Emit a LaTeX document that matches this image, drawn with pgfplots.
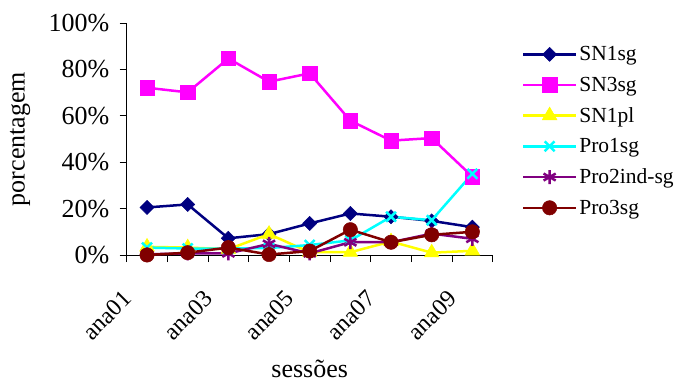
\documentclass[border=0pt]{standalone}
\usepackage{fontspec}
\setmainfont{Liberation Serif}
\usepackage{pgfplots}
\pgfplotsset{compat=1.18}
\definecolor{navyc}{RGB}{0,0,128}
\definecolor{magc}{RGB}{255,0,255}
\definecolor{yelc}{RGB}{255,255,0}
\definecolor{cyac}{RGB}{0,255,255}
\definecolor{purc}{RGB}{128,0,128}
\definecolor{drc}{RGB}{128,0,0}
\begin{document}
\begin{tikzpicture}
\path[use as bounding box] (-126.7pt,-123pt) rectangle (550.3pt,255pt);
\begin{axis}[
 at={(0pt,0pt)}, anchor=south west,
 scale only axis, width=366pt, height=232pt,
 xmin=0.5, xmax=9.5, ymin=0, ymax=100,
 axis x line*=bottom, axis y line*=left,
 axis line style={black, line width=0.8pt},
 tick align=outside,
 major tick length=7pt,
 tick style={black, line width=0.8pt},
 ytick={0,20,...,100},
 yticklabels={0\%,20\%,40\%,60\%,80\%,100\%},
 xtick={0.5,1.5,...,9.5}, xticklabels={},
 extra x ticks={1,3,5,7,9},
 extra x tick labels={ana01,ana03,ana05,ana07,ana09},
 extra x tick style={major tick length=0pt},
 yticklabel style={font=\fontsize{26}{31}\selectfont, xshift=-7pt},
 xticklabel style={font=\fontsize{24}{29}\selectfont, rotate=45, anchor=east, inner xsep=28pt},
 xticklabel shift=20pt,
 label style={font=\fontsize{26}{31}\selectfont},
 xlabel={sessões}, ylabel={porcentagem},
 xlabel style={at={(axis description cs:0.5,-0.491)}, anchor=center, inner sep=0pt},
 ylabel style={at={(axis description cs:-0.2915,0.5)}, anchor=center},
 legend style={draw=none, fill=none, at={(axis description cs:1.071,0.917)}, anchor=north west, font=\fontsize{21.5}{25}\selectfont, row sep=10.7pt},
 legend cell align=left,
 legend image code/.code={\draw[mark repeat=2, mark phase=2] plot coordinates {(0pt,0pt) (26.5pt,0pt) (53pt,0pt)};},
 clip=false,
]
\addplot[navyc, line width=2.5pt, mark=square*, mark size=5pt, mark options={rotate=45, fill=navyc, line width=0.5pt}]
 coordinates {(1,20.5) (2,21.8) (3,7.2) (4,9.0) (5,13.6) (6,17.9) (7,16.5) (8,14.7) (9,12.0)};
\addplot[magc, line width=2.5pt, mark=square*, mark size=7.2pt, mark options={fill=magc, line width=0.5pt}]
 coordinates {(1,72.1) (2,70.1) (3,84.7) (4,74.7) (5,78.3) (6,57.9) (7,49.3) (8,50.4) (9,33.8)};
\addplot[yelc, line width=2.5pt, mark=triangle*, mark size=8.5pt, mark options={fill=yelc, line width=0.5pt}]
 coordinates {(1,3.5) (2,3.2) (3,2.5) (4,9.0) (5,1.2) (6,1.2) (7,5.8) (8,1.0) (9,1.8)};
\addplot[cyac, line width=2.5pt, mark=x, mark size=7pt, mark options={line width=2.5pt}]
 coordinates {(1,3.2) (2,2.8) (3,2.8) (4,3.0) (5,4.3) (6,6.3) (7,16.5) (8,15.0) (9,35.0)};
\addplot[purc, line width=2.5pt, mark=asterisk, mark size=7pt, mark options={line width=2.5pt}]
 coordinates {(1,0.3) (2,0.7) (3,0.7) (4,4.8) (5,0.7) (6,5.5) (7,5.5) (8,9.2) (9,7.0)};
\addplot[drc, line width=2.5pt, mark=*, mark size=7.2pt, mark options={fill=drc, line width=0.5pt}]
 coordinates {(1,0) (2,1.0) (3,3.2) (4,0.2) (5,1.7) (6,10.9) (7,5.5) (8,8.7) (9,10.0)};
\legend{SN1sg,SN3sg,SN1pl,Pro1sg,Pro2ind-sg,Pro3sg}
\end{axis}
\end{tikzpicture}
\end{document}
